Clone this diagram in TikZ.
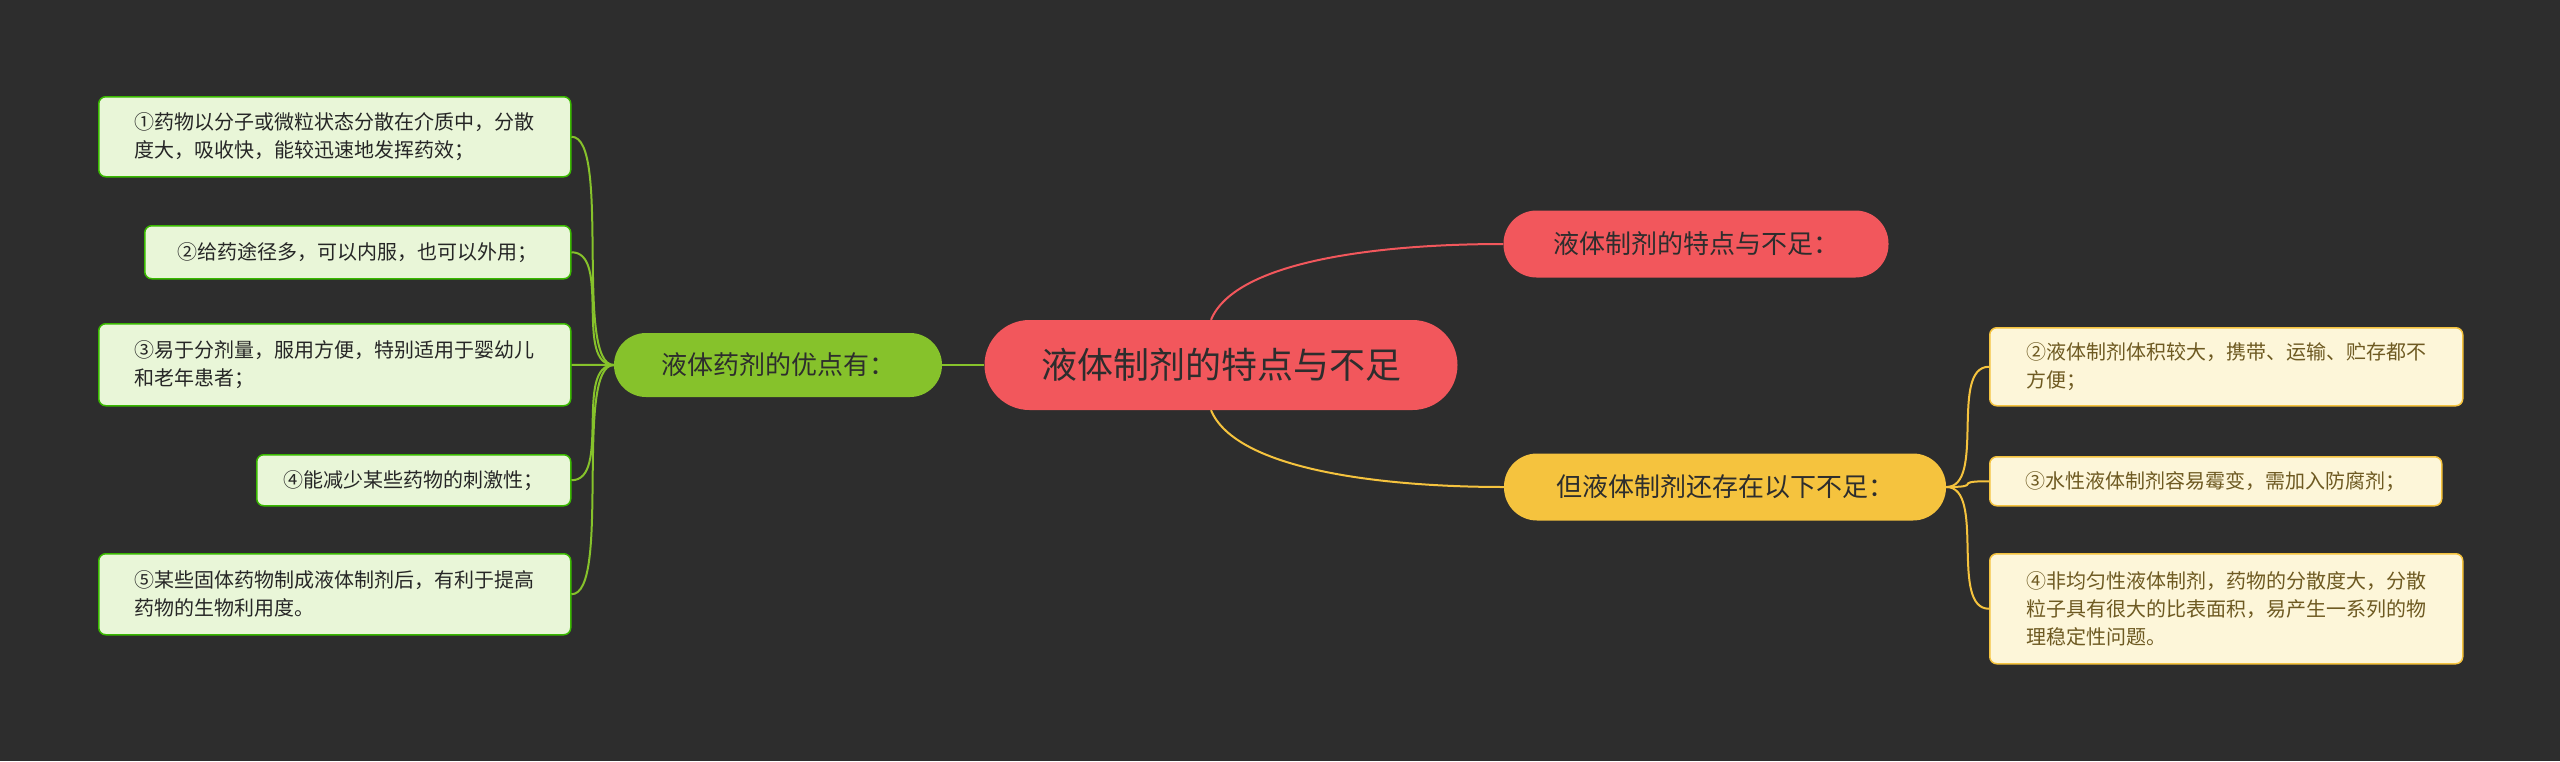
\documentclass[tikz,border=0pt]{standalone}
\usepackage{fontspec}
\newfontfamily\cjk{Noto Sans CJK SC}
\begin{document}
\begin{tikzpicture}[x=1pt,y=-1pt,
  leafL/.style={draw=green!60!black!70!lime, line width=1.5pt, fill=gleaf, rounded corners=7pt, align=left, anchor=north west, inner xsep=9pt, font=\cjk\fontsize{20}{28}\selectfont, text=black!85},
  leafR/.style={draw=yel, line width=1.5pt, fill=yleaf, rounded corners=7pt, align=left, anchor=north west, inner xsep=9pt, font=\cjk\fontsize{20}{28}\selectfont, text=brn},
  mainbox/.style={rounded corners=20pt, inner sep=0pt, font=\cjk\fontsize{26}{30}\selectfont},
  cg/.style={draw=grn, line width=2pt},
  cr/.style={draw=rd, line width=2pt},
  cy/.style={draw=yel, line width=2pt}]
\definecolor{bg}{HTML}{2D2D2D}
\definecolor{rd}{HTML}{F2575C}
\definecolor{grn}{HTML}{86C22B}
\definecolor{yel}{HTML}{F5C33E}
\definecolor{gleaf}{HTML}{E9F6D8}
\definecolor{yleaf}{HTML}{FDF6D9}
\definecolor{brn}{HTML}{6E5A22}
\useasboundingbox[fill=bg] (0,0) rectangle (2560,761);
\node[mainbox, fill=rd, minimum width=473, minimum height=90, rounded corners=45pt, font=\cjk\fontsize{36}{40}\selectfont, text=bg] (c) at (1221,365) {液体制剂的特点与不足};
\node[mainbox, fill=grn, minimum width=328, minimum height=64, rounded corners=32pt, text=bg] (g) at (778,365) {液体药剂的优点有：};
\node[mainbox, fill=rd, minimum width=385, minimum height=67, rounded corners=33pt, text=bg] (r) at (1696,244) {液体制剂的特点与不足：};
\node[mainbox, fill=yel, minimum width=442, minimum height=67, rounded corners=33pt, text=bg] (y) at (1725,487) {但液体制剂还存在以下不足：};
% left leaves
\node[leafL, minimum width=472, minimum height=80] (l1) at (98,96) {①药物以分子或微粒状态分散在介质中，分散\\度大，吸收快，能较迅速地发挥药效；};
\node[leafL, minimum width=426, minimum height=53] (l2) at (144,225) {②给药途径多，可以内服，也可以外用；};
\node[leafL, minimum width=472, minimum height=82] (l3) at (98,323) {③易于分剂量，服用方便，特别适用于婴幼儿\\和老年患者；};
\node[leafL, minimum width=314, minimum height=51] (l4) at (256,454) {④能减少某些药物的刺激性；};
\node[leafL, minimum width=472, minimum height=81] (l5) at (98,553) {⑤某些固体药物制成液体制剂后，有利于提高\\药物的生物利用度。};
% right leaves
\node[leafR, minimum width=473, minimum height=78] (r1) at (1989,327) {②液体制剂体积较大，携带、运输、贮存都不\\方便；};
\node[leafR, minimum width=452, minimum height=49] (r2) at (1989,456) {③水性液体制剂容易霉变，需加入防腐剂；};
\node[leafR, minimum width=473, minimum height=110] (r3) at (1989,553) {④非均匀性液体制剂，药物的分散度大，分散\\粒子具有很大的比表面积，易产生一系列的物\\理稳定性问题。};
% connectors
\draw[cg] (c.west) -- (g.east);
\draw[cr] ([xshift=-10]c.north) .. controls +(25,-60) and +(-120,0) .. (r.west);
\draw[cy] ([xshift=-10]c.south) .. controls +(25,60) and +(-120,0) .. (y.west);
\foreach \n in {l1,l2,l3,l4,l5}
  \draw[cg] (g.west) .. controls +(-40,0) and +(40,0) .. (\n.east);
\foreach \n in {r1,r2,r3}
  \draw[cy] (y.east) .. controls +(40,0) and +(-40,0) .. (\n.west);
\end{tikzpicture}
\end{document}
